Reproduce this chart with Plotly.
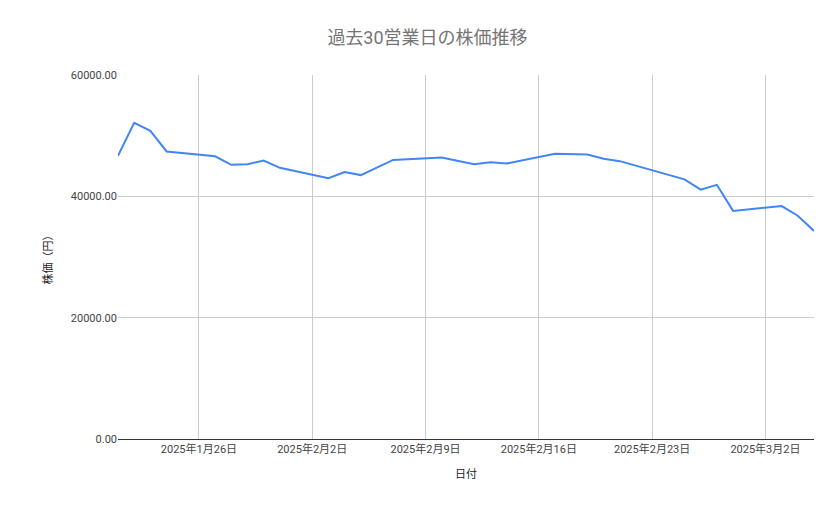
import plotly.graph_objects as go

dates = ["2025-01-21","2025-01-22","2025-01-23","2025-01-24","2025-01-27","2025-01-28","2025-01-29","2025-01-30","2025-01-31",
         "2025-02-03","2025-02-04","2025-02-05","2025-02-07","2025-02-10","2025-02-12","2025-02-13","2025-02-14","2025-02-17",
         "2025-02-19","2025-02-20","2025-02-21","2025-02-25","2025-02-26","2025-02-27","2025-02-28","2025-03-03","2025-03-04","2025-03-05"]
prices = [46700,52100,50800,47400,46600,45200,45300,45900,44700,
          43000,44000,43500,46000,46400,45300,45600,45400,47000,
          46900,46200,45800,42800,41100,41900,37600,38400,36800,34300]
tick_vals = ["2025-01-26","2025-02-02","2025-02-09","2025-02-16","2025-02-23","2025-03-02"]
tick_text = ["2025年1月26日","2025年2月2日","2025年2月9日","2025年2月16日","2025年2月23日","2025年3月2日"]

fig = go.Figure(go.Scatter(x=dates, y=prices, mode="lines", line=dict(color="#4285F4", width=2)))
fig.update_layout(
    width=839, height=519, margin=dict(l=110, r=33, t=67, b=88),
    paper_bgcolor="white", plot_bgcolor="white",
    font=dict(family="Roboto, Noto Sans CJK JP", size=11, color="#444"),
    title=dict(text="過去30営業日の株価推移", x=0.5, y=0.955, xanchor="center",
               font=dict(size=18, color="#757575")),
    showlegend=False,
)
fig.update_xaxes(range=["2025-01-21","2025-03-05"], tickvals=tick_vals, ticktext=tick_text,
                 showgrid=True, gridcolor="#cccccc", title=dict(text="日付", font=dict(size=11, color="#222")),
                 showline=True, linecolor="#333", ticks="", tickfont=dict(color="#444"))
fig.update_yaxes(range=[0,60000], tickvals=[0,20000,40000,60000], tickformat=".2f",
                 showgrid=True, gridcolor="#cccccc", zeroline=False,
                 title=dict(text="株価（円）", font=dict(size=11, color="#222")), tickfont=dict(color="#444"))
fig.write_html("out.html")
